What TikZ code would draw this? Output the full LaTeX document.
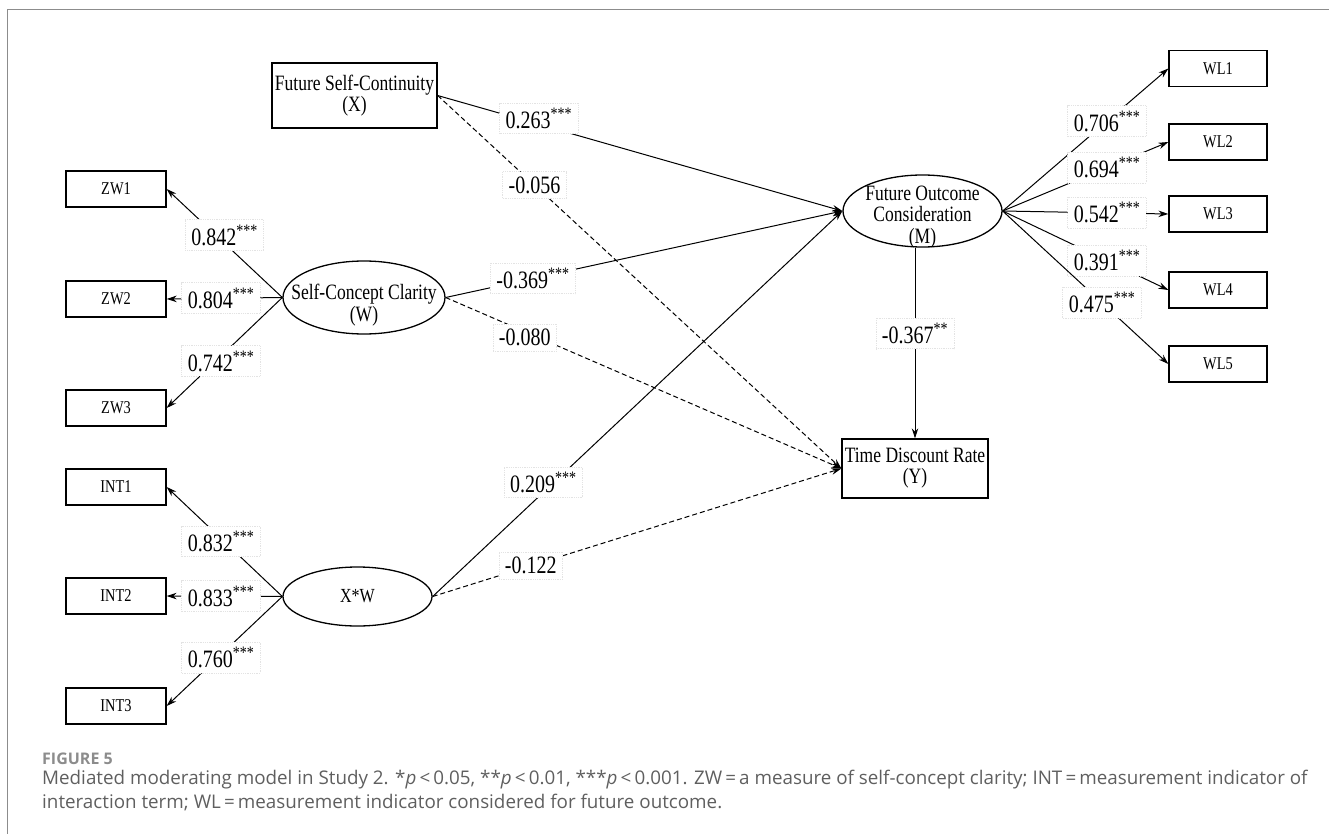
\documentclass[tikz,border=0pt]{standalone}
\usepackage{fontspec}
\setmainfont{Liberation Serif}[FakeStretch=0.8]
\newfontfamily\capfont{Open Sans}
\usetikzlibrary{shapes,arrows.meta,positioning}
\definecolor{framegray}{RGB}{140,140,140}
\definecolor{capgray}{RGB}{95,95,95}
\tikzstyle{construct} = [draw,line width=1.3pt,rectangle,inner sep=2pt,align=center,font=\fontsize{21.9}{21}\selectfont]
\tikzstyle{indicator} = [draw,line width=1.3pt,rectangle,inner sep=0,minimum width=100pt,minimum height=36pt,font=\fontsize{18}{17}\selectfont]
\tikzstyle{latent} = [draw,line width=1.3pt,ellipse,inner sep=0]
\tikzstyle{lattext} = [inner sep=0,align=center,font=\fontsize{21.9}{21.5}\selectfont]
\tikzstyle{coef} = [fill=white,draw=gray!22,densely dotted,line width=.8pt,inner xsep=6pt,inner ysep=5pt,font=\fontsize{25}{22}\selectfont]
\tikzstyle{link} = [line width=1pt,-{Stealth[length=10pt,width=6.5pt]}]
\tikzstyle{nslink} = [link,dash pattern=on 5pt off 3pt]
\tikzstyle{captext} = [inner sep=0,text=capgray,align=left,font=\capfont\fontsize{18.8}{24}\selectfont]
\def \stars {\textsuperscript{***}}

\begin{document}
\begin{tikzpicture}[x=1pt,y=-1pt]
  \useasboundingbox (0,0) rectangle (1329,834);
  \draw[framegray,line width=1pt] (7,834) -- (7,10) -- (1329,10);

  \node[construct,minimum width=165pt,minimum height=65pt] (x) at (354.5,95.5) {Future Self-Continuity\\(X)};
  \node[latent,minimum width=162pt,minimum height=73pt] (w) at (364,297.5) {};
  \node[lattext] (wtext) at (364,305) {Self-Concept Clarity\\(W)};
  \node[latent,minimum width=149pt,minimum height=59pt,font=\fontsize{20}{18}\selectfont] (xw) at (357.5,596.5) {X*W};
  \node[latent,minimum width=159pt,minimum height=72pt] (m) at (922.5,211) {};
  \node[lattext] (mtext) at (922.5,217) {Future Outcome\\Consideration\\(M)};
  \node[construct,minimum width=146pt,minimum height=59pt] (y) at (915,468.5) {Time Discount Rate\\(Y)};

  \node[indicator] (zw1) at (116,189) {ZW1};
  \node[indicator] (zw2) at (116,299) {ZW2};
  \node[indicator] (zw3) at (116,408) {ZW3};
  \node[indicator] (int1) at (116,487) {INT1};
  \node[indicator] (int2) at (116,596) {INT2};
  \node[indicator] (int3) at (116,706) {INT3};
  \node[indicator,minimum width=98pt] (wl1) at (1218,68.5) {WL1};
  \node[indicator,minimum width=98pt] (wl2) at (1218,142) {WL2};
  \node[indicator,minimum width=98pt] (wl3) at (1218,214) {WL3};
  \node[indicator,minimum width=98pt] (wl4) at (1218,290) {WL4};
  \node[indicator,minimum width=98pt] (wl5) at (1218,364) {WL5};

  \draw[link] (w.west) -- (zw1.east) node[coef,pos=.5,yshift=8pt]{0.842\stars};
  \draw[link] (w.west) -- (zw2.east) node[coef,pos=.53]{0.804\stars};
  \draw[link] (w.west) -- (zw3.east) node[coef,pos=.53,yshift=-5pt]{0.742\stars};
  \draw[link] (xw.west) -- (int1.east) node[coef,pos=.53,yshift=-3pt]{0.832\stars};
  \draw[link] (xw.west) -- (int2.east) node[coef,pos=.53]{0.833\stars};
  \draw[link] (xw.west) -- (int3.east) node[coef,pos=.53,yshift=-3pt]{0.760\stars};

  \draw[link] (x.east) -- (m.west) node[coef,pos=.25,yshift=6pt]{0.263\stars};
  \draw[nslink] (x.east) -- (y.west) node[coef,pos=.24]{-0.056};
  \draw[link] (w.east) -- (m.west) node[coef,pos=.22]{-0.369\stars};
  \draw[nslink] (w.east) -- (y.west) node[coef,pos=.2,yshift=-6pt]{-0.080};
  \draw[link] (xw.east) -- (m.west) node[coef,pos=.27,yshift=10pt]{0.209\stars};
  \draw[nslink] (xw.east) -- (y.west) node[coef,pos=.24]{-0.122};
  \draw[link] (m.south -| y.north) -- (y.north) node[coef,pos=.45]{-0.367\textsuperscript{**}};

  \draw[link] (m.east) -- (wl1.west) node[coef,pos=.63]{0.706\stars};
  \draw[link] (m.east) -- (wl2.west) node[coef,pos=.63]{0.694\stars};
  \draw[link] (m.east) -- (wl3.west) node[coef,pos=.63]{0.542\stars};
  \draw[link] (m.east) -- (wl4.west) node[coef,pos=.63]{0.391\stars};
  \draw[link] (m.east) -- (wl5.west) node[coef,pos=.6]{0.475\stars};

  \node[captext,anchor=west,text=framegray,font=\capfont\bfseries\fontsize{16}{18}\selectfont] (figno) at (42,759) {FIGURE 5};
  \node[captext,anchor=north west] (caption) at (42,770) {Mediated moderating model in Study 2. *\textit{p}\,<\,0.05, **\textit{p}\,<\,0.01, ***\textit{p}\,<\,0.001. ZW\,=\,a measure of self-concept clarity; INT\,=\,measurement indicator of\\interaction term; WL\,=\,measurement indicator considered for future outcome.};
\end{tikzpicture}
\end{document}
